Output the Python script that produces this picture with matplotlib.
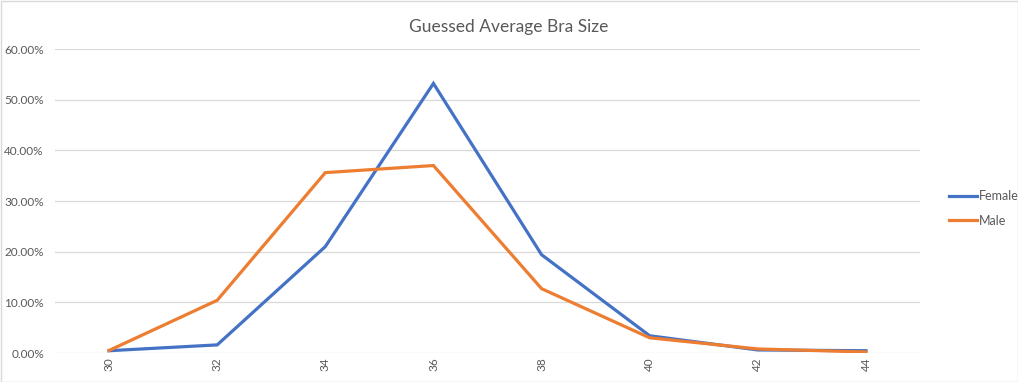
import matplotlib.pyplot as plt
from matplotlib.ticker import PercentFormatter

sizes = ["30", "32", "34", "36", "38", "40", "42", "44"]
female = [0.45, 1.6, 21.0, 53.2, 19.4, 3.4, 0.6, 0.45]
male = [0.5, 10.4, 35.6, 37.0, 12.7, 3.0, 0.8, 0.2]

plt.rcParams["font.family"] = ["Lato", "DejaVu Sans"]

fig = plt.figure(figsize=(10.18, 3.82), dpi=100)
ax = fig.add_axes([55 / 1018, 29 / 382, 865 / 1018, 304 / 382])

x = range(len(sizes))
ax.plot(x, female, color="#4472C4", lw=2.3, label="Female", solid_joinstyle="miter")
ax.plot(x, male, color="#ED7D31", lw=2.3, label="Male", solid_joinstyle="miter")

ax.set_xlim(-0.5, len(sizes) - 0.5)
ax.set_ylim(0, 60)
ax.set_yticks(range(0, 61, 10))
ax.yaxis.set_major_formatter(PercentFormatter(decimals=2))
ax.set_xticks(list(x))
ax.set_xticklabels(sizes, rotation=90)
ax.tick_params(colors="#595959", labelsize=8.5, length=0)
ax.tick_params(axis="x", pad=3)
ax.tick_params(axis="y", pad=8)
ax.grid(axis="y", color="#D9D9D9", lw=0.9)
ax.set_axisbelow(True)
for s in ax.spines.values():
    s.set_visible(False)

fig.suptitle("Guessed Average Bra Size", y=0.95, fontsize=12.5, color="#595959")

leg = ax.legend(loc="center left", bbox_to_anchor=(1.02, 0.475), frameon=False,
                fontsize=9, handlelength=2.3, handletextpad=0.1, labelspacing=1.0)
for t in leg.get_texts():
    t.set_color("#595959")

fig.patches.append(plt.Rectangle((0.5 / 1018, 0.5 / 382), 1 - 1 / 1018, 1 - 1 / 382,
                                 transform=fig.transFigure, fill=False,
                                 edgecolor="#D9D9D9", lw=1))
fig.savefig("out.png", dpi=100)
